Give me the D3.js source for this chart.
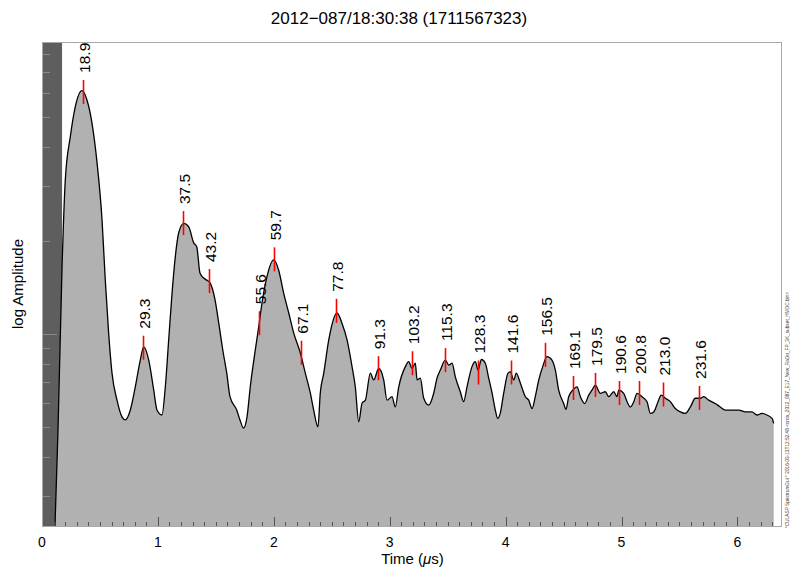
<!DOCTYPE html>
<html>
<head>
<meta charset="utf-8">
<script src="https://cdn.jsdelivr.net/npm/d3@7"></script>
<style>
  body { margin: 0; background: #fff; }
  svg { display: block; font-family: "Liberation Sans", Arial, Helvetica, sans-serif; }
</style>
</head>
<body>
<div class="svg-container"></div>
<script>
const title = '2012\u2212087/18:30:38 (1711567323)'
const footer = '*CULASP SpectrumGui * 2016-03-13T12:52:48 <crda_2012_087_E17_New_RaDo_FP_3K_subset_HMDC.bin>'

// time in microseconds, amplitude as log10
const times = [0.112, 0.138, 0.173, 0.201, 0.244, 0.287, 0.345, 0.388, 0.431, 0.475, 0.518, 0.546, 0.575, 0.604, 0.647, 0.690, 0.719, 0.762, 0.805, 0.848,
  0.877, 0.921, 0.964, 0.992, 1.035, 1.064, 1.093, 1.122, 1.150, 1.179, 1.223, 1.266, 1.309, 1.335, 1.363, 1.395, 1.421, 1.450, 1.493, 1.521,
  1.564, 1.594, 1.622, 1.680, 1.708, 1.739, 1.769, 1.797, 1.840, 1.870, 1.898, 1.941, 1.999, 2.042, 2.085, 2.129, 2.172, 2.229, 2.272, 2.315,
  2.344, 2.381, 2.401, 2.431, 2.474, 2.545, 2.588, 2.632, 2.675, 2.703, 2.733, 2.761, 2.790, 2.833, 2.862, 2.905, 2.948, 2.977, 3.020, 3.048,
  3.078, 3.135, 3.164, 3.192, 3.221, 3.236, 3.264, 3.293, 3.337, 3.380, 3.408, 3.437, 3.480, 3.509, 3.538, 3.566, 3.609, 3.638, 3.667, 3.710,
  3.739, 3.762, 3.791, 3.825, 3.854, 3.883, 3.911, 3.932, 3.954, 3.984, 4.021, 4.041, 4.070, 4.092, 4.127, 4.170, 4.199, 4.228, 4.256, 4.286,
  4.320, 4.357, 4.400, 4.429, 4.458, 4.501, 4.521, 4.544, 4.579, 4.616, 4.645, 4.682, 4.717, 4.745, 4.774, 4.817, 4.860, 4.890, 4.933, 4.961,
  4.976, 5.019, 5.048, 5.076, 5.106, 5.134, 5.177, 5.220, 5.249, 5.278, 5.315, 5.343, 5.378, 5.421, 5.464, 5.507, 5.550, 5.594, 5.637, 5.680,
  5.709, 5.752, 5.809, 5.852, 5.896, 5.953, 6.011, 6.068, 6.126, 6.169, 6.212, 6.255, 6.299, 6.313]
const logAmps = [0.381, 0.690, 1.217, 1.497, 1.636, 1.733, 1.785, 1.755, 1.681, 1.552, 1.368, 1.174, 1.003, 0.874, 0.787, 0.733, 0.723, 0.755, 0.830, 0.916,
  0.959, 0.916, 0.819, 0.755, 0.739, 0.830, 0.981, 1.132, 1.249, 1.326, 1.357, 1.346, 1.294, 1.282, 1.197, 1.181, 1.174, 1.165, 1.110, 1.045,
  0.939, 0.874, 0.798, 0.755, 0.723, 0.697, 0.733, 0.830, 0.948, 1.024, 1.100, 1.185, 1.239, 1.206, 1.132, 1.068, 1.003, 0.939, 0.874, 0.810,
  0.755, 0.701, 0.810, 0.874, 0.981, 1.068, 1.035, 0.981, 0.895, 0.830, 0.717, 0.777, 0.787, 0.874, 0.852, 0.889, 0.852, 0.787, 0.798, 0.765,
  0.830, 0.895, 0.911, 0.890, 0.906, 0.852, 0.858, 0.794, 0.771, 0.810, 0.858, 0.884, 0.916, 0.900, 0.906, 0.862, 0.814, 0.782, 0.830, 0.895,
  0.911, 0.884, 0.918, 0.906, 0.858, 0.810, 0.755, 0.728, 0.745, 0.810, 0.874, 0.878, 0.852, 0.874, 0.842, 0.798, 0.787, 0.760, 0.798, 0.852,
  0.895, 0.927, 0.916, 0.884, 0.819, 0.776, 0.757, 0.798, 0.819, 0.830, 0.798, 0.776, 0.803, 0.819, 0.835, 0.809, 0.814, 0.798, 0.814, 0.798,
  0.819, 0.809, 0.782, 0.765, 0.782, 0.809, 0.798, 0.782, 0.744, 0.749, 0.782, 0.803, 0.793, 0.782, 0.760, 0.749, 0.744, 0.765, 0.793, 0.793,
  0.798, 0.787, 0.776, 0.765, 0.755, 0.755, 0.755, 0.749, 0.749, 0.739, 0.744, 0.739, 0.728, 0.712]

const peakTimes = [0.354, 0.871, 1.219, 1.438, 1.870, 2.004, 2.232, 2.539, 2.899, 3.192, 3.475, 3.765, 4.044, 4.343, 4.582, 4.774, 4.976, 5.151, 5.358, 5.666]
const peakLogAmps = [1.781, 0.956, 1.358, 1.171, 1.035, 1.241, 0.940, 1.075, 0.890, 0.906, 0.916, 0.876, 0.876, 0.933, 0.826, 0.836, 0.810, 0.810, 0.805, 0.794]
const peakLabels = ['18.9', '29.3', '37.5', '43.2', '55.6', '59.7', '67.1', '77.8', '91.3', '103.2', '115.3', '128.3', '141.6', '156.5', '169.1', '179.5', '190.6', '200.8', '213.0', '231.6']

const xTicks = [0, 1, 2, 3, 4, 5, 6]
const xDomain = [0, 6.376]
const yDomain = [0.381, 1.942]
const blankEnd = 0.173

const width = 800
const height = 578
const margin = { top: 42, right: 19, bottom: 52, left: 42 }
const graphWidth = width - margin.left - margin.right
const graphHeight = height - margin.top - margin.bottom

const data = times.map((t, i) => ({ t: t, v: logAmps[i] }))
const peaks = peakTimes.map((t, i) => ({ t: t, v: peakLogAmps[i], label: peakLabels[i] }))

const svg = d3.select('.svg-container').append('svg')
  .attr('width', width)
  .attr('height', height)

svg.append('rect').attr('width', width).attr('height', height).attr('fill', '#fff')

const graph = svg.append('g')
  .attr('transform', `translate(${margin.left},${margin.top})`)

const x = d3.scaleLinear().domain(xDomain).range([0, graphWidth])
const y = d3.scaleLinear().domain(yDomain).range([graphHeight, 0])

// blanked region at the start
graph.append('rect')
  .attr('x', x(0))
  .attr('y', 0)
  .attr('width', x(blankEnd) - x(0))
  .attr('height', graphHeight)
  .attr('fill', '#5e5e5e')

const area = d3.area()
  .curve(d3.curveMonotoneX)
  .x(d => x(d.t))
  .y0(y(yDomain[0]))
  .y1(d => y(d.v))

const line = d3.line()
  .curve(d3.curveMonotoneX)
  .x(d => x(d.t))
  .y(d => y(d.v))

graph.append('path').datum(data)
  .attr('d', area)
  .attr('fill', '#b1b1b1')

graph.append('path').datum(data)
  .attr('d', line)
  .attr('fill', 'none')
  .attr('stroke', '#000')
  .attr('stroke-width', 1.3)
  .attr('stroke-linejoin', 'round')

// log ticks on the left
const yMinor = []
;[1, 10].forEach(dec => {
  d3.range(2, 10).forEach(m => {
    const v = Math.log10(m * dec)
    if (v > yDomain[0] && v < yDomain[1]) yMinor.push(v)
  })
})
const yMajor = [1]

graph.selectAll('.ytick').data(yMinor.map(v => ({ v: v, len: 8 })).concat(yMajor.map(v => ({ v: v, len: 15 }))))
  .enter().append('line')
  .attr('x1', 0)
  .attr('x2', d => d.len)
  .attr('y1', d => Math.round(y(d.v)) + 0.5)
  .attr('y2', d => Math.round(y(d.v)) + 0.5)
  .attr('stroke', '#8a8a8a')
  .attr('stroke-width', 1)

// ticks along the bottom
const xMinor = d3.range(1, 64).map(i => i / 10).filter(v => Math.abs(v - Math.round(v)) > 0.01)

graph.selectAll('.xminor').data(xMinor)
  .enter().append('line')
  .attr('x1', d => Math.round(x(d)) + 0.5)
  .attr('x2', d => Math.round(x(d)) + 0.5)
  .attr('y1', graphHeight)
  .attr('y2', graphHeight - 4)
  .attr('stroke', '#555')

graph.selectAll('.xmajor').data(xTicks)
  .enter().append('line')
  .attr('x1', d => Math.round(x(d)) + 0.5)
  .attr('x2', d => Math.round(x(d)) + 0.5)
  .attr('y1', graphHeight)
  .attr('y2', graphHeight - 9)
  .attr('stroke', '#555')

graph.selectAll('.xlabel').data(xTicks)
  .enter().append('text')
  .attr('x', d => x(d))
  .attr('y', graphHeight + 21)
  .attr('text-anchor', 'middle')
  .attr('font-size', 14)
  .attr('fill', '#000')
  .text(d => d)

// frame
graph.append('rect')
  .attr('x', 0.5)
  .attr('y', 0.5)
  .attr('width', graphWidth)
  .attr('height', graphHeight)
  .attr('fill', 'none')
  .attr('stroke', '#a8a8a8')

// peak markers
graph.selectAll('.pk').data(peaks)
  .enter().append('line')
  .attr('x1', d => Math.round(x(d.t)) + 0.5)
  .attr('x2', d => Math.round(x(d.t)) + 0.5)
  .attr('y1', d => y(d.v) - 12)
  .attr('y2', d => y(d.v) + 12)
  .attr('stroke', '#ff0000')
  .attr('stroke-width', 1.6)

graph.selectAll('.pklabel').data(peaks)
  .enter().append('text')
  .attr('transform', d => `translate(${x(d.t) + 1.5},${y(d.v) - 19}) rotate(-90)`)
  .attr('dy', '0.36em')
  .attr('font-size', 15.5)
  .attr('fill', '#000')
  .text(d => d.label)

// titles
svg.append('text')
  .attr('x', 399)
  .attr('y', 24)
  .attr('text-anchor', 'middle')
  .attr('font-size', 17)
  .text(title)

const xl = svg.append('text')
  .attr('x', margin.left + graphWidth / 2 + 1)
  .attr('y', 564)
  .attr('text-anchor', 'middle')
  .attr('font-size', 15)
xl.append('tspan').text('Time (')
xl.append('tspan').attr('font-style', 'italic').text('\u03bc')
xl.append('tspan').text('s)')

svg.append('text')
  .attr('transform', `translate(23,${margin.top + graphHeight / 2}) rotate(-90)`)
  .attr('text-anchor', 'middle')
  .attr('font-size', 15)
  .text('log Amplitude')

svg.append('text')
  .attr('transform', 'translate(789,528) rotate(-90)')
  .attr('font-size', 4.5)
  .attr('fill', '#444')
  .attr('textLength', 236)
  .attr('lengthAdjust', 'spacingAndGlyphs')
  .text(footer)
</script>
</body>
</html>
